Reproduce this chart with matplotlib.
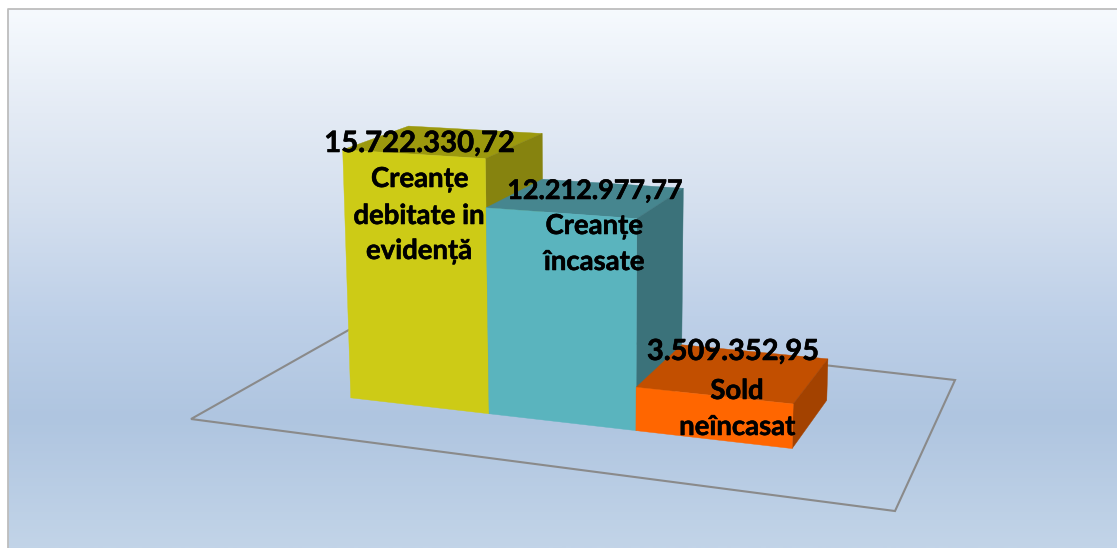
import numpy as np
import matplotlib
matplotlib.use('Agg')
import matplotlib.pyplot as plt
import matplotlib.patheffects as pe
from matplotlib.patches import Polygon
from matplotlib.colors import LinearSegmentedColormap

# ---- data ----
values = [15722330.72, 12212977.77, 3509352.95]
value_labels = ['15.722.330,72', '12.212.977,77', '3.509.352,95']
categories = ['Creanțe\ndebitate in\nevidență', 'Creanțe\nîncasate', 'Sold\nneîncasat']

# ---- styles ----
front_colors = ['#cdcb16', '#5ab4be', '#ff6600']
top_colors = ['#9c990e', '#46868f', '#c24f00']
side_colors = ['#86830f', '#3b727a', '#a34200']
FONT = ['Lato', 'Noto Sans', 'DejaVu Sans']

# ---- 3-D view: category x, depth y, height axis z, projected onto the page ----
CAMERA = np.array([
    [124.1208, 95.22002, -3.314807, 350.7401],
    [3.878488, -13.32638, -44.97853, 397.8575],
    [-0.02904196, 0.07692462, -0.005488221, 1.0],
])
FLOOR = [(-0.774, -0.737), (3.768, -0.810), (3.732, 1.727), (-0.771, 1.970)]


def height_axis(v):
    return (v / 1e6 - 2.58) ** 0.67


def proj(x, y, z):
    h = CAMERA @ np.array([x, y, z, 1.0])
    return h[0] / h[2], h[1] / h[2]


fig = plt.figure(figsize=(11.17, 5.48), dpi=100)
ax = fig.add_axes([0, 0, 1, 1])
ax.set_xlim(0, 1117)
ax.set_ylim(548, 0)
ax.axis('off')

# background gradient inside the chart frame
stops = [(0.0, '#f6fafe'), (0.19, '#e4ebf5'), (0.36, '#d5e0ef'), (0.57, '#bed0e8'),
         (0.76, '#afc5e0'), (1.0, '#c2d4e8')]
cmap = LinearSegmentedColormap.from_list('bg', stops)
grad = np.linspace(0, 1, 540).reshape(-1, 1)
ax.imshow(grad, cmap=cmap, extent=(8, 1117, 548, 9), aspect='auto', zorder=0)
ax.set_xlim(0, 1117)
ax.set_ylim(548, 0)
ax.plot([7.5, 7.5, 1117], [548, 8.5, 8.5], color='#bdbdbd', lw=1.3, zorder=1)

# floor
ax.add_patch(Polygon([proj(x, y, 0) for x, y in FLOOR], closed=True, fill=False,
                     edgecolor='#8a8a8a', lw=1.5, zorder=2))

# bars: contiguous boxes one unit wide and one unit deep
for i, v in enumerate(values):
    z = height_axis(v)
    x0, x1 = i, i + 1
    top = [proj(x0, 0, z), proj(x1, 0, z), proj(x1, 1, z), proj(x0, 1, z)]
    side = [proj(x1, 0, 0), proj(x1, 1, 0), proj(x1, 1, z), proj(x1, 0, z)]
    front = [proj(x0, 0, 0), proj(x1, 0, 0), proj(x1, 0, z), proj(x0, 0, z)]
    zo = 3 + i
    ax.add_patch(Polygon(top, closed=True, fc=top_colors[i], ec=top_colors[i], lw=0.3, zorder=zo))
    ax.add_patch(Polygon(side, closed=True, fc=side_colors[i], ec=side_colors[i], lw=0.3, zorder=zo))
    ax.add_patch(Polygon(front, closed=True, fc=front_colors[i], ec=front_colors[i], lw=0.3, zorder=zo))

# labels (placed by hand, baseline anchored)
label_pos = [(419.5, 152), (594.5, 199), (733, 360)]
label_size = [21.1, 19.4, 20.9]
cat_pos = [[(419.5, 187), (419, 224), (419, 259)], [(594, 234), (594, 270)], [(737, 399), (737, 435)]]
halo = [pe.withStroke(linewidth=0.4, foreground='black')]
for i in range(3):
    ax.text(*label_pos[i], value_labels[i], fontsize=label_size[i], fontweight='bold', family=FONT,
            ha='center', va='baseline', color='black', zorder=10, path_effects=halo)
    for (px, py), line in zip(cat_pos[i], categories[i].split('\n')):
        ax.text(px, py, line, fontsize=19.8, fontweight='bold', family=FONT,
                ha='center', va='baseline', color='black', zorder=10, path_effects=halo)

fig.savefig('out.png', dpi=100)
